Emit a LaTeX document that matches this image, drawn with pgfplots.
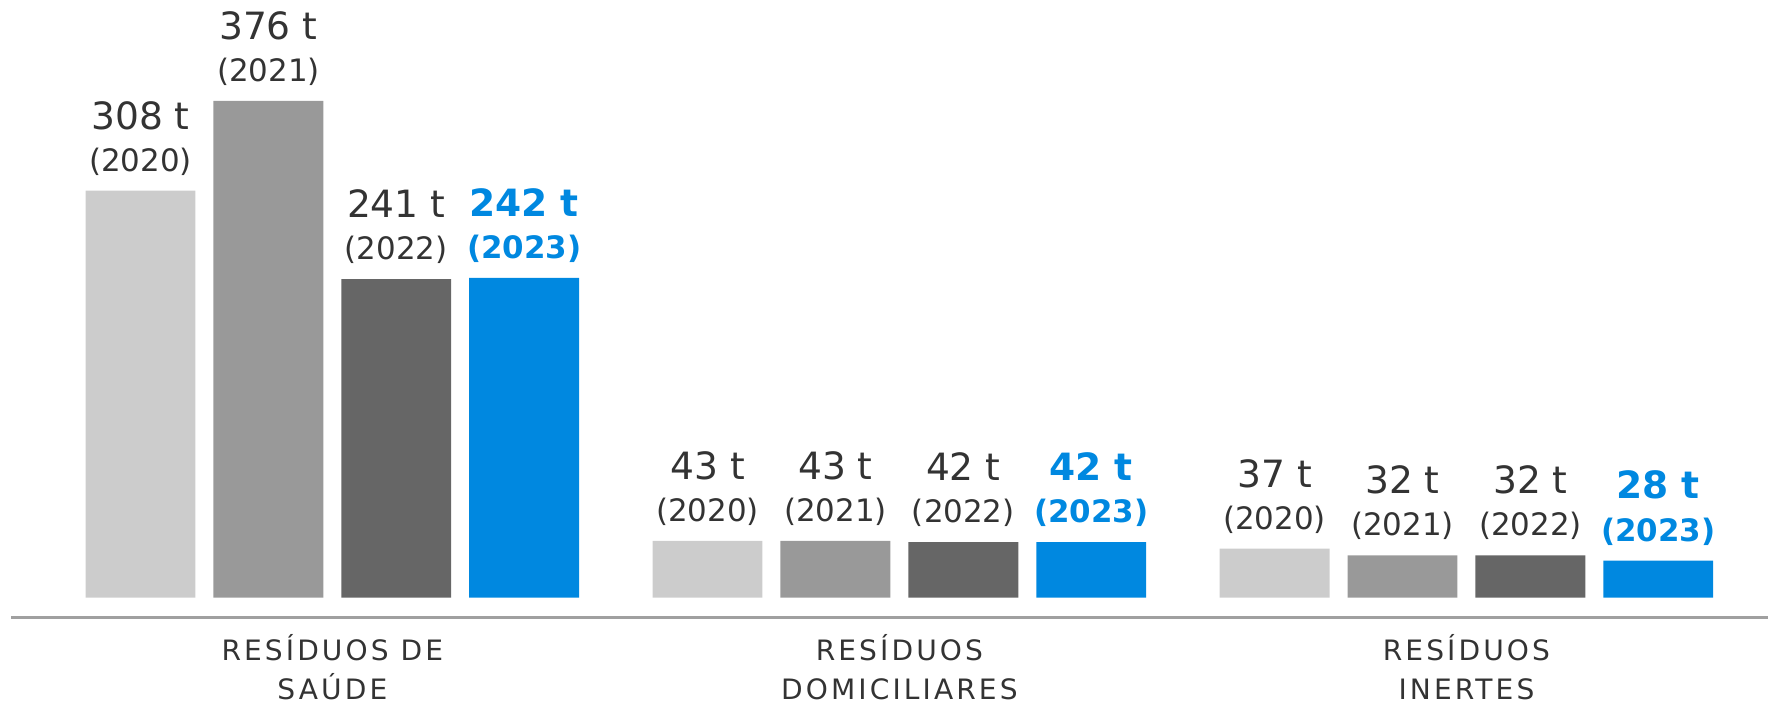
\documentclass[border=0pt]{standalone}
\usepackage{pgfplots}
\pgfplotsset{compat=1.18}
\usepackage{fontspec}
\setmainfont{DejaVu Sans}
\newfontfamily\capsfont[LetterSpace=11]{DejaVu Sans}
\definecolor{c2020}{HTML}{CCCCCC}
\definecolor{c2021}{HTML}{999999}
\definecolor{c2022}{HTML}{666666}
\definecolor{c2023}{HTML}{0088E0}
\definecolor{txt}{HTML}{333333}
\definecolor{axisgray}{HTML}{A0A0A0}

% value label: "308 t" over "(2020)"
\newcommand{\vlab}[2]{{\fontsize{10.7}{10.9}\selectfont\pgfmathprintnumber{#1}~t}\\{\fontsize{8.8}{10.9}\selectfont(#2)}}

\begin{document}
\begin{tikzpicture}
\begin{axis}[
  scale only axis,
  width=175.8mm, height=61.8mm,
  xmin=-0.5667, xmax=2.531,
  ymin=-15.1, ymax=452.4,
  ybar=1.8mm, bar width=11mm,
  /pgf/number format/assume math mode=true,
  axis x line*=bottom, axis y line=none,
  x axis line style={-, draw=axisgray, line width=0.3mm},
  xtick={0,1,2}, major tick length=0pt, ytick=\empty,
  xticklabels={RESÍDUOS DE\\SAÚDE, RESÍDUOS\\DOMICILIARES, RESÍDUOS\\INERTES},
  xticklabel style={anchor=north, inner sep=0pt, align=center, text=txt,
    font=\fontsize{8}{11.2}\selectfont\capsfont, yshift=-1.6mm},
  nodes near coords,
  every node near coord/.append style={anchor=south, inner sep=0pt, align=center, text=txt, yshift=4.2pt},
]
\addplot[fill=c2020, draw=none, nodes near coords={\vlab{\pgfplotspointmeta}{2020}}]
  coordinates {(0,308) (1,43) (2,37)};
\addplot[fill=c2021, draw=none, nodes near coords={\vlab{\pgfplotspointmeta}{2021}}]
  coordinates {(0,376) (1,43) (2,32)};
\addplot[fill=c2022, draw=none, nodes near coords={\vlab{\pgfplotspointmeta}{2022}}]
  coordinates {(0,241) (1,42) (2,32)};
\addplot[fill=c2023, draw=none, nodes near coords={\vlab{\pgfplotspointmeta}{2023}},
  every node near coord/.append style={text=c2023, font=\bfseries}]
  coordinates {(0,242) (1,42) (2,28)};
\end{axis}
\path ([xshift=-1.1mm,yshift=-8.5mm]current axis.south west) rectangle (current axis.north east);
\end{tikzpicture}
\end{document}
